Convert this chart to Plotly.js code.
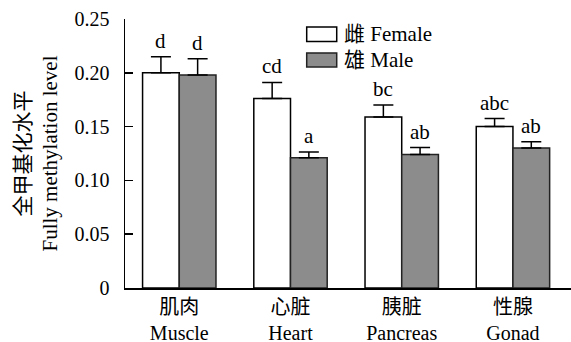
<!DOCTYPE html>
<html>
<head>
<meta charset="utf-8">
<script src="https://cdn.plot.ly/plotly-3.0.1.min.js"></script>
<style>html,body{margin:0;padding:0;background:#fff;}#chart{width:571px;height:342px;}</style>
</head>
<body>
<div id="chart"></div>
<script>
// ---- data ----
const categoriesCN = ['肌肉', '心脏', '胰脏', '性腺'];
const categoriesEN = ['Muscle', 'Heart', 'Pancreas', 'Gonad'];
const femaleValues = [0.200, 0.176, 0.159, 0.150];
const femaleErrors = [0.015, 0.015, 0.011, 0.0075];
const maleValues   = [0.198, 0.121, 0.124, 0.130];
const maleErrors   = [0.015, 0.0055, 0.0065, 0.006];
const femaleLetters = ['d', 'cd', 'bc', 'abc'];
const maleLetters   = ['d', 'a', 'ab', 'ab'];
const yTickValues = [0, 0.05, 0.10, 0.15, 0.20, 0.25];
const yTickLabels = ['0', '0.05', '0.10', '0.15', '0.20', '0.25'];
const femaleName = '雌 Female';
const maleName = '雄 Male';
const yTitleCN = '全甲基化水平';
const yTitleEN = 'Fully methylation level';

// ---- drawing ----
const FONT = "'Liberation Serif', 'Times New Roman', 'Noto Sans CJK SC', serif";
const xPos = categoriesCN.map((_, i) => i);
const bargap = 0.34;
const halfOffset = (1 - bargap) / 4;
const XRANGE = [-0.488, 3.522];

const female = {
  type: 'bar', name: femaleName, x: xPos, y: femaleValues,
  marker: {color: '#ffffff', line: {color: '#000000', width: 1.5}},
  error_y: {type: 'data', array: femaleErrors, arrayminus: femaleErrors.map(() => 0), symmetric: false,
            color: '#000000', thickness: 1.5, width: 10},
  showlegend: false, hoverinfo: 'skip'
};
const male = {
  type: 'bar', name: maleName, x: xPos, y: maleValues,
  marker: {color: '#8c8c8c', line: {color: '#222222', width: 1.5}},
  error_y: {type: 'data', array: maleErrors, arrayminus: maleErrors.map(() => 0), symmetric: false,
            color: '#000000', thickness: 1.5, width: 10},
  showlegend: false, hoverinfo: 'skip'
};

const annotations = [];
femaleLetters.forEach((t, i) => annotations.push({
  x: i - halfOffset, y: femaleValues[i] + femaleErrors[i], xref: 'x', yref: 'y',
  text: t, showarrow: false, xanchor: 'center', yanchor: 'bottom', yshift: 2,
  font: {family: FONT, size: 21, color: '#000'}
}));
maleLetters.forEach((t, i) => annotations.push({
  x: i + halfOffset, y: maleValues[i] + maleErrors[i], xref: 'x', yref: 'y',
  text: t, showarrow: false, xanchor: 'center', yanchor: 'bottom', yshift: 2,
  font: {family: FONT, size: 21, color: '#000'}
}));

// manual legend (wide swatches as in the reference)
const legendItems = [
  {name: femaleName, fill: '#ffffff', line: '#000000', y0: 0.970, y1: 0.916},
  {name: maleName, fill: '#8c8c8c', line: '#222222', y0: 0.874, y1: 0.822}
];
const shapes = legendItems.map(it => ({
  type: 'rect', xref: 'paper', yref: 'paper', x0: 0.4074, x1: 0.4747, y0: it.y1, y1: it.y0,
  fillcolor: it.fill, line: {color: it.line, width: 1.5}
}));
legendItems.forEach(it => annotations.push({
  xref: 'paper', yref: 'paper', x: 0.486, y: (it.y0 + it.y1) / 2,
  text: it.name, showarrow: false, xanchor: 'left', yanchor: 'middle',
  font: {family: FONT, size: 21, color: '#000'}
}));

const layout = {
  width: 571, height: 342,
  margin: {l: 125, r: 0, t: 19, b: 54, pad: 0},
  paper_bgcolor: '#ffffff', plot_bgcolor: '#ffffff',
  font: {family: FONT, size: 21, color: '#000'},
  barmode: 'group', bargap: bargap, bargroupgap: 0,
  xaxis: {
    range: XRANGE, tickvals: xPos,
    ticktext: categoriesCN.map((c, i) => c + '<br>' + categoriesEN[i]),
    showline: true, linecolor: '#000', linewidth: 1.5, ticks: '', showgrid: false, zeroline: false,
    tickfont: {family: FONT, size: 20, color: '#000'}, ticklabelstandoff: 0,
    automargin: false, fixedrange: true
  },
  yaxis: {
    range: [0, 0.25], tickvals: yTickValues, ticktext: yTickLabels,
    showline: true, linecolor: '#000', linewidth: 1.5, ticks: 'inside', ticklen: 8, tickwidth: 1.5, tickcolor: '#000',
    showgrid: false, zeroline: false, ticklabelstandoff: 10,
    tickfont: {family: FONT, size: 20, color: '#000'}, automargin: false, fixedrange: true,
    title: {text: yTitleCN + '<br>' + yTitleEN, font: {family: FONT, size: 21, color: '#000'}, standoff: 11}
  },
  annotations: annotations,
  shapes: shapes
};

Plotly.newPlot('chart', [female, male], layout, {displayModeBar: false, staticPlot: true});
</script>
</body>
</html>
